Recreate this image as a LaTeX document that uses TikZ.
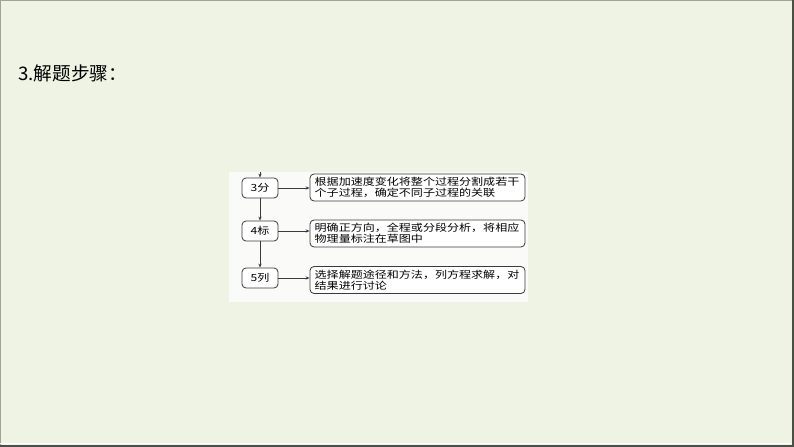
\documentclass[tikz,border=0pt]{standalone}
\usepackage{fontspec}
\setmainfont{Noto Sans CJK SC}
\newfontfamily\boxfont[FakeStretch=1.22]{Noto Sans CJK SC}
\usetikzlibrary{arrows.meta}
\definecolor{slidebg}{HTML}{EEF3E4}
\definecolor{panelbg}{HTML}{FAFBF8}
\definecolor{edgegray}{HTML}{9FA595}
\definecolor{edgedark}{HTML}{4A4F48}
\definecolor{boxline}{HTML}{3A3A3A}
\begin{document}
\begin{tikzpicture}[x=0.75pt,y=-0.75pt,
  stepbox/.style={draw=boxline,line width=0.6pt,rounded corners=3pt,fill=white,
    minimum width=27pt,minimum height=15pt,inner sep=0pt,
    font=\boxfont\fontsize{7.4pt}{8.3pt}\selectfont},
  notebox/.style={draw=boxline,line width=0.6pt,rounded corners=3pt,fill=white,
    text width=154.2pt,inner xsep=3.5pt,inner ysep=0pt,minimum height=20.25pt,align=left,
    font=\boxfont\fontsize{7.4pt}{8.3pt}\selectfont},
  link/.style={draw=boxline,line width=0.6pt,-{Stealth[length=3pt,width=2.4pt]}}]
  \useasboundingbox[fill=slidebg] (0,0) rectangle (794,447);
  \draw[edgegray,line width=0.75pt] (0,0.5) -- (794,0.5);
  \draw[edgegray,line width=0.75pt] (0.5,0) -- (0.5,447);
  \draw[white,line width=0.75pt] (0,443.5) -- (791,443.5);
  \draw[edgedark,line width=1.5pt] (0,445.5) -- (794,445.5);
  \draw[edgedark,line width=1.5pt] (792.5,0) -- (792.5,447);

  \node[anchor=west,inner sep=0pt,font=\fontsize{14pt}{16pt}\selectfont] (title) at (18,73) {3.解题步骤：};

  \fill[panelbg] (229,172) rectangle (528,302);

  \node[stepbox] (fen) at (260,188) {3分};
  \node[stepbox] (biao) at (260,231) {4标};
  \node[stepbox] (lie) at (260,278) {5列};

  \node[notebox] (fenText) at (417.5,187.5) {根据加速度变化将整个过程分割成若干\\个子过程，确定不同子过程的关联};
  \node[notebox] (biaoText) at (417.5,233.5) {明确正方向，全程或分段分析，将相应\\物理量标注在草图中};
  \node[notebox] (lieText) at (417.5,280) {选择解题途径和方法，列方程求解，对\\结果进行讨论};

  \coordinate (start) at (260,172);
  \draw[link] (start) -- (fen);
  \draw[link] (fen) -- (biao);
  \draw[link] (biao) -- (lie);

  \draw[link] (fen.east) -- (fen.east -| fenText.west);
  \draw[link] (biao.east) -- (biao.east -| biaoText.west);
  \draw[link] (lie.east) -- (lie.east -| lieText.west);
\end{tikzpicture}
\end{document}
